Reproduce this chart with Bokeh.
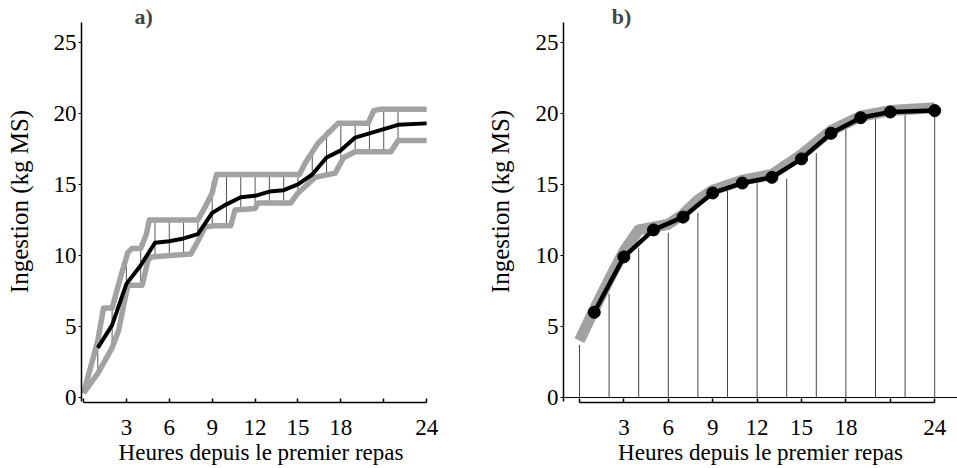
from bokeh.plotting import figure
from bokeh.layouts import row
from bokeh.models import Label, Span, FixedTicker
from bokeh.embed import file_html
from bokeh.resources import INLINE

# ---------------- data: panel a ----------------
mean_a_hours = [1, 2, 3, 4, 5, 6, 7, 8, 9, 10, 11, 12, 13, 14, 15, 16, 17, 18, 19, 20, 21, 22, 24]
mean_a = [3.5, 5.1, 8.0, 9.3, 10.9, 11.0, 11.2, 11.5, 13.0, 13.6, 14.1, 14.2, 14.5, 14.6,
          15.0, 15.7, 16.9, 17.4, 18.3, 18.6, 18.9, 19.2, 19.3]

upper_a_hours = [0, 1.0, 1.4, 2.0, 2.6, 3.1, 3.4, 4.0, 4.4, 4.6, 8.0, 8.5, 9.0, 9.3,
                 15.1, 15.5, 16.4, 17.8, 19.9, 20.3, 20.8, 24]
upper_a = [0.3, 4.0, 6.3, 6.3, 8.5, 10.2, 10.5, 10.5, 11.5, 12.5, 12.5, 13.4, 14.4, 15.7,
           15.7, 16.5, 17.9, 19.3, 19.3, 20.2, 20.3, 20.3]

lower_a_hours = [0, 1.0, 2.0, 2.45, 3.1, 4.1, 4.5, 4.7, 7.5, 8.0, 8.5, 9.2, 10.3, 10.6,
                 12.0, 12.2, 14.5, 15.0, 16.2, 17.6, 18.2, 19.0, 21.5, 22.0, 24]
lower_a = [0.3, 1.7, 3.5, 4.7, 7.9, 7.9, 9.6, 9.9, 10.1, 11.0, 12.0, 12.1, 12.1, 13.2,
           13.3, 13.7, 13.7, 14.4, 15.5, 15.8, 16.9, 17.3, 17.3, 18.1, 18.1]

vert_a_hours = [1, 2, 3, 4, 5, 6, 7, 8, 9, 10, 11, 12, 13, 14, 15, 16, 17, 18, 19, 20, 21, 22]
vert_a_low = [1.7, 3.5, 7.5, 7.9, 9.9, 9.9, 10.0, 11.0, 12.1, 12.1, 13.2, 13.3, 13.7, 13.7,
              14.4, 15.2, 15.6, 16.5, 17.3, 17.3, 17.3, 18.1]
vert_a_high = [4.0, 6.3, 10.0, 10.5, 12.5, 12.5, 12.5, 12.5, 15.2, 15.7, 15.7, 15.7, 15.7, 15.7,
               15.7, 17.5, 18.8, 19.3, 19.3, 19.3, 20.3, 20.3]

# ---------------- data: panel b ----------------
dot_hours = [1, 3, 5, 7, 9, 11, 13, 15, 17, 19, 21, 24]
dot_vals = [6.0, 9.9, 11.8, 12.7, 14.4, 15.1, 15.5, 16.8, 18.6, 19.7, 20.1, 20.2]

band_hours = [0, 1, 2, 3, 4, 5, 6, 7, 8, 9, 11, 13, 15, 17, 19, 21, 24]
band_vals = [4.0, 6.2, 8.3, 10.3, 11.8, 12.0, 12.2, 12.9, 13.9, 14.6, 15.3, 15.7, 17.1,
             18.8, 19.8, 20.2, 20.4]

drop_hours = [0, 2, 4, 6, 8, 10, 12, 14, 16, 18, 20, 22, 24]
drop_vals = [3.7, 7.3, 10.5, 11.6, 13.0, 14.6, 15.1, 15.4, 17.2, 18.9, 19.7, 20.0, 20.1]

x_ticks = [0, 3, 6, 9, 12, 15, 18, 21, 24]
x_hidden = [0, 21]
y_ticks = [0, 5, 10, 15, 20, 25]

x_title = "Heures depuis le premier repas"
y_title = "Ingestion (kg MS)"

FONT = "Liberation Serif"
GRAY = "#a2a2a2"
FS = "23px"
Y_LO, Y_AXIS_TOP, Y_HI = -0.35, 26.4, 27.95


def style(p, x_start, x_end):
    p.outline_line_color = None
    p.xgrid.visible = False
    p.ygrid.visible = False
    p.background_fill_color = "white"
    p.border_fill_color = "white"
    p.x_range.start, p.x_range.end = x_start, x_end
    p.y_range.start, p.y_range.end = Y_LO, Y_HI
    xa = p.xaxis[0]
    xa.ticker = FixedTicker(ticks=x_ticks)
    xa.major_label_overrides = {t: "" for t in x_hidden}
    xa.bounds = (0, 24)
    xa.minor_tick_line_color = None
    xa.major_tick_in = 4
    xa.major_tick_out = 0
    xa.major_label_standoff = 17
    xa.axis_label = x_title
    xa.axis_label_standoff = 2
    xa.axis_label_text_font = FONT
    xa.axis_label_text_font_style = "normal"
    xa.axis_label_text_font_size = FS
    xa.axis_label_text_color = "black"
    xa.major_label_text_font = FONT
    xa.major_label_text_font_size = FS
    xa.major_label_text_color = "black"
    xa.axis_line_width = 1.5
    xa.major_tick_line_width = 1.5
    ya = p.yaxis[0]
    ya.ticker = FixedTicker(ticks=y_ticks)
    ya.bounds = (-0.3, Y_AXIS_TOP)
    ya.minor_tick_line_color = None
    ya.major_tick_in = 0
    ya.major_tick_out = 3
    ya.major_label_standoff = 2
    ya.axis_label = y_title
    ya.axis_label_text_font = FONT
    ya.axis_label_text_font_style = "normal"
    ya.axis_label_text_font_size = "25px"
    ya.axis_label_text_color = "black"
    ya.major_label_text_font = FONT
    ya.major_label_text_font_size = FS
    ya.major_label_text_color = "black"
    ya.axis_line_width = 1.5


# ---------------- panel a ----------------
pa = figure(width=480, height=468, output_backend="svg", toolbar_location=None,
            min_border_left=81, min_border_right=40, min_border_top=0, min_border_bottom=66)
style(pa, -0.14, 24.97)
pa.yaxis[0].axis_label_standoff = 18

pa.segment(x0=vert_a_hours, y0=vert_a_low, x1=vert_a_hours, y1=vert_a_high,
           line_color="#555555", line_width=1)
pa.line(upper_a_hours, upper_a, line_color=GRAY, line_width=5.5, line_join="round")
pa.line(lower_a_hours, lower_a, line_color=GRAY, line_width=5.5, line_join="round")
pa.line(mean_a_hours, mean_a, line_color="black", line_width=4, line_join="round")

pa.add_layout(Label(x=4.2, y=26.83, text="a)", text_font=FONT, text_font_style="bold",
                    text_font_size="22px", text_align="center", text_baseline="middle"))

# ---------------- panel b ----------------
pb = figure(width=477, height=468, output_backend="svg", toolbar_location=None,
            min_border_left=83, min_border_right=0, min_border_top=0, min_border_bottom=66)
style(pb, -1.08, 25.54)
pb.yaxis[0].axis_label_standoff = 19

pb.add_layout(Span(location=0, dimension="width", line_color="black", line_width=1))
pb.segment(x0=drop_hours, y0=[0] * len(drop_hours), x1=drop_hours, y1=drop_vals,
           line_color="#444444", line_width=1)
pb.line(band_hours, band_vals, line_color=GRAY, line_width=11, line_join="round")
pb.line(dot_hours, dot_vals, line_color="black", line_width=4.5, line_join="round")
pb.scatter(dot_hours, dot_vals, size=12, fill_color="black", line_color="black")

pb.add_layout(Label(x=2.84, y=26.83, text="b)", text_font=FONT, text_font_style="bold",
                    text_font_size="22px", text_align="center", text_baseline="middle"))

layout = row(pa, pb)
open("out.html", "w").write(file_html(layout, INLINE))
